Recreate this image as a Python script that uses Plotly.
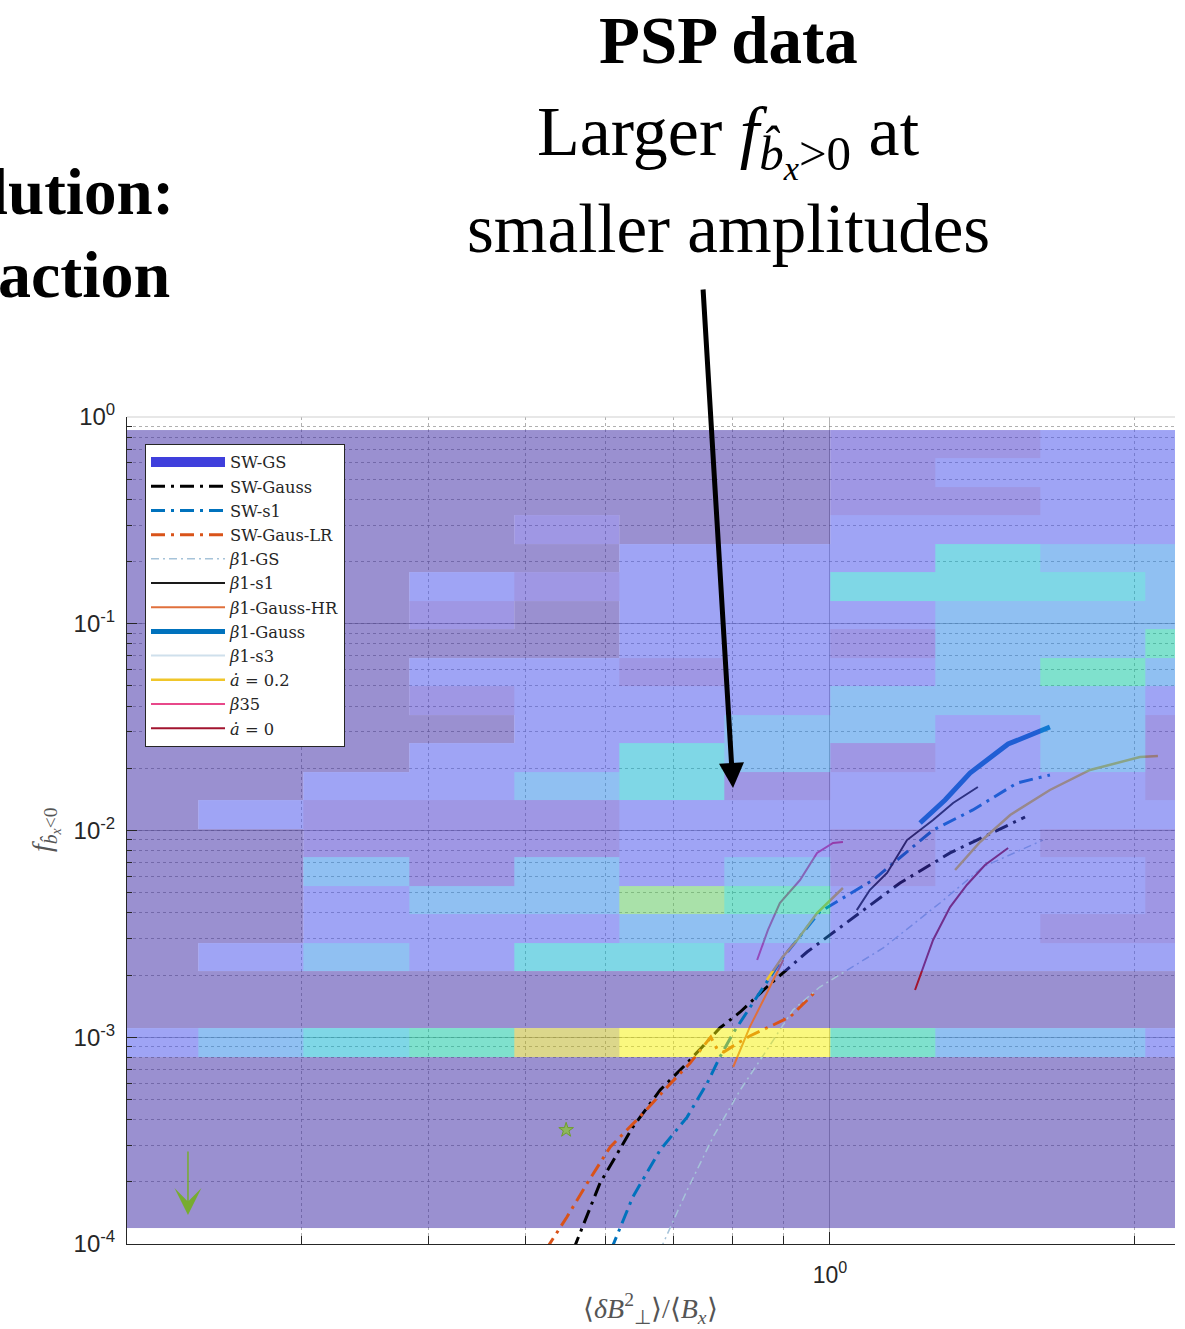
import math
import plotly.graph_objects as go

# ---------------- PSP occurrence map ----------------
# colour level of each bin, rows listed from the top of the panel downwards,
# columns from small to large amplitude
PSP_LEVELS = [
    [0, 0, 0, 0, 0, 0, 0, 1, 1, 2, 2],
    [0, 0, 0, 0, 0, 0, 0, 1, 2, 2, 2],
    [0, 0, 0, 0, 0, 0, 0, 1, 1, 2, 2],
    [0, 0, 0, 0, 1, 0, 0, 2, 2, 2, 2],
    [0, 0, 0, 0, 0, 2, 2, 2, 4, 3, 3],
    [0, 0, 0, 2, 1, 2, 2, 4, 4, 4, 3],
    [0, 0, 0, 1, 0, 2, 2, 2, 3, 3, 3],
    [0, 0, 0, 0, 0, 2, 2, 1, 3, 3, 5],
    [0, 0, 0, 2, 2, 1, 2, 2, 3, 5, 3],
    [0, 0, 0, 1, 2, 2, 2, 3, 3, 3, 2],
    [0, 0, 0, 0, 2, 2, 3, 3, 2, 3, 1],
    [0, 0, 0, 2, 2, 4, 3, 1, 2, 3, 1],
    [0, 0, 2, 2, 3, 4, 1, 2, 2, 2, 1],
    [0, 2, 1, 1, 1, 2, 2, 2, 2, 2, 2],
    [0, 0, 1, 1, 1, 2, 2, 1, 2, 1, 1],
    [0, 0, 3, 1, 3, 2, 3, 1, 2, 2, 1],
    [0, 0, 2, 3, 3, 6, 5, 2, 2, 2, 1],
    [0, 0, 2, 2, 2, 3, 3, 2, 2, 1, 1],
    [0, 2, 3, 2, 4, 4, 2, 2, 2, 2, 2],
    [0, 0, 0, 0, 0, 0, 0, 0, 0, 0, 0],
    [0, 0, 0, 0, 0, 0, 0, 0, 0, 0, 0],
    [2, 3, 4, 5, 7, 8, 8, 5, 3, 3, 2],
    [0, 0, 0, 0, 0, 0, 0, 0, 0, 0, 0],
    [0, 0, 0, 0, 0, 0, 0, 0, 0, 0, 0],
    [0, 0, 0, 0, 0, 0, 0, 0, 0, 0, 0],
    [0, 0, 0, 0, 0, 0, 0, 0, 0, 0, 0],
    [0, 0, 0, 0, 0, 0, 0, 0, 0, 0, 0],
    [0, 0, 0, 0, 0, 0, 0, 0, 0, 0, 0],
]
# logarithmic bins
X_EDGE_LOG_FIRST, X_BIN_LOG = -0.7294, 0.1042
Y_EDGE_LOG_TOP, Y_BIN_LOG = -0.063, 0.1378

LEVEL_COLORS = ["rgb(55,35,161)", "rgb(65,49,201)", "rgb(65,75,235)",
                "rgb(35,129,229)", "rgb(1,175,205)", "rgb(1,195,155)",
                "rgb(85,195,85)", "rgb(185,175,25)", "rgb(245,241,0)"]
MAP_OPACITY = 0.5

# ---------------- simulation curves ----------------
sw_gauss_x = [0.557, 0.592, 0.638, 0.679, 0.722, 0.778, 0.815, 0.866, 0.949, 1.047, 1.173, 1.315, 1.417, 1.560]
sw_gauss_y = [9.35e-5, 1.97e-4, 3.68e-4, 5.56e-4, 7.50e-4, 1.109e-3, 1.325e-3, 1.750e-3, 2.584e-3, 3.69e-3, 5.57e-3, 7.79e-3, 9.30e-3, 1.162e-2]

sw_s1_x = [0.607, 0.638, 0.679, 0.722, 0.756, 0.778, 0.802, 0.839, 0.899, 0.977, 1.103, 1.265, 1.385, 1.532, 1.651]
sw_s1_y = [9.35e-5, 1.69e-4, 2.85e-4, 4.11e-4, 6.01e-4, 8.02e-4, 1.049e-3, 1.465e-3, 2.444e-3, 4.04e-3, 5.76e-3, 1.005e-2, 1.257e-2, 1.698e-2, 1.855e-2]

sw_gaus_lr_x = [0.523, 0.549, 0.575, 0.606, 0.648, 0.690, 0.727, 0.749, 0.762, 0.773, 0.785, 0.805, 0.833, 0.866, 0.913, 0.971]
sw_gaus_lr_y = [9.35e-5, 1.35e-4, 1.97e-4, 2.95e-4, 4.11e-4, 5.75e-4, 7.50e-4, 8.97e-4, 1.003e-3, 8.77e-4, 8.49e-4, 9.18e-4, 1.014e-3, 1.109e-3, 1.254e-3, 1.693e-3]

b1_gs_x = [0.679, 0.722, 0.766, 0.815, 0.866, 0.919, 0.977, 1.047, 1.129, 1.285, 1.417, 1.625]
b1_gs_y = [9.35e-5, 1.82e-4, 3.29e-4, 5.56e-4, 8.68e-4, 1.355e-3, 1.750e-3, 2.163e-3, 2.703e-3, 4.46e-3, 6.66e-3, 8.99e-3]

b1_s1_x = [1.063, 1.095, 1.139, 1.192, 1.265, 1.324, 1.401]
b1_s1_y = [4.12e-3, 5.15e-3, 6.23e-3, 8.99e-3, 1.124e-2, 1.359e-2, 1.623e-2]

b1_gauss_hr_x = [0.802, 0.833, 0.866, 0.899]
b1_gauss_hr_y = [7.18e-4, 1.122e-3, 1.637e-3, 2.364e-3]

b1_gauss_x = [1.228, 1.300, 1.376, 1.501, 1.651]
b1_gauss_y = [1.087e-2, 1.405e-2, 1.897e-2, 2.619e-2, 3.168e-2]

adot02_x = [0.866, 0.896, 0.928, 0.971, 1.030, None, 1.330, 1.408, 1.508, 1.651, 1.809, 2.027, 2.112]
adot02_y = [1.892e-3, 2.417e-3, 2.953e-3, 3.99e-3, 5.27e-3, None, 6.44e-3, 8.80e-3, 1.189e-2, 1.570e-2, 1.963e-2, 2.266e-2, 2.291e-2]

b35_x = [0.847, 0.868, 0.892, 0.934, 0.971, 1.007, 1.030]
b35_y = [2.364e-3, 3.30e-3, 4.46e-3, 5.76e-3, 7.79e-3, 8.70e-3, 8.80e-3]

adot0_x = [1.214, 1.265, 1.315, 1.366, 1.424, 1.501]
adot0_y = [1.693e-3, 2.953e-3, 4.26e-3, 5.45e-3, 6.81e-3, 8.23e-3]

# runs with no curve inside the plotted window (legend entries only)
sw_gs_x, sw_gs_y = [None], [None]
b1_s3_x, b1_s3_y = [None], [None]

# single marked run and the upper-limit arrow
star_x, star_y = [0.548], [3.56e-4]
limit_x, limit_y_from, limit_y_to = 0.2314, 2.85e-4, 1.38e-4

# axis ticks
Y_MAJOR = [1e-4, 1e-3, 1e-2, 1e-1, 1e0]
Y_MAJOR_TEXT = ["10<sup>-4</sup>", "10<sup>-3</sup>", "10<sup>-2</sup>", "10<sup>-1</sup>", "10<sup>0</sup>"]
X_MAJOR = [1.0]
X_MAJOR_TEXT = ["10<sup>0</sup>"]
X_MINOR = [0.3, 0.4, 0.5, 0.6, 0.7, 0.8, 0.9, 2.0]
X_RANGE_LOG = [-0.696, 0.3416]
Y_RANGE_LOG = [-4, 0]

SERIF = "Liberation Serif"
LEGEND_FONT = "DejaVu Serif"
SANS = "Liberation Sans"

DASHDOT = "14px,6px,3px,6px"
THIN_DASHDOT = "8px,4px,2px,4px"

series = [
    ("SW-GS", sw_gs_x, sw_gs_y, "#3f3fdc", 13, "solid"),
    ("SW-Gauss", sw_gauss_x, sw_gauss_y, "#000000", 3, DASHDOT),
    ("SW-s1", sw_s1_x, sw_s1_y, "#0072BD", 3, DASHDOT),
    ("SW-Gaus-LR", sw_gaus_lr_x, sw_gaus_lr_y, "#D95319", 3, DASHDOT),
    ("<i>β</i>1-GS", b1_gs_x, b1_gs_y, "#a6c3d9", 1.5, THIN_DASHDOT),
    ("<i>β</i>1-s1", b1_s1_x, b1_s1_y, "#1a1a1a", 2, "solid"),
    ("<i>β</i>1-Gauss-HR", b1_gauss_hr_x, b1_gauss_hr_y, "#E0703C", 2, "solid"),
    ("<i>β</i>1-Gauss", b1_gauss_x, b1_gauss_y, "#0072BD", 5, "solid"),
    ("<i>β</i>1-s3", b1_s3_x, b1_s3_y, "#cfe0ec", 2, "solid"),
    ("<i>ȧ</i> = 0.2", adot02_x, adot02_y, "#F0C62A", 2.5, "solid"),
    ("<i>β</i>35", b35_x, b35_y, "#E8488A", 2, "solid"),
    ("<i>ȧ</i> = 0", adot0_x, adot0_y, "#A2142F", 2, "solid"),
]

n_rows = len(PSP_LEVELS)
n_cols = len(PSP_LEVELS[0])
x_edges = [10 ** (X_EDGE_LOG_FIRST + k * X_BIN_LOG) for k in range(n_cols + 1)]
y_edges = [10 ** (Y_EDGE_LOG_TOP - (n_rows - k) * Y_BIN_LOG) for k in range(n_rows + 1)]
z = PSP_LEVELS[::-1]
# empty bins sit beneath the curves, populated bins are laid over them
z_empty = [[v if v == 0 else None for v in row] for row in z]
z_filled = [[None if v == 0 else v for v in row] for row in z]

nlev = len(LEVEL_COLORS)
colorscale = []
for i, c in enumerate(LEVEL_COLORS):
    colorscale.append([i / nlev, c])
    colorscale.append([(i + 1) / nlev, c])

fig = go.Figure()
fig.add_trace(go.Heatmap(
    x=x_edges, y=y_edges, z=z_empty, colorscale=colorscale,
    zmin=-0.5, zmax=nlev - 0.5, showscale=False, opacity=MAP_OPACITY,
    hoverinfo="skip", xaxis="x", yaxis="y",
))
for name, xs, ys, color, width, dash in series:
    fig.add_trace(go.Scatter(
        x=xs, y=ys, name=name, mode="lines",
        line=dict(color=color, width=width, dash=dash),
        xaxis="x", yaxis="y",
    ))

fig.add_trace(go.Heatmap(
    x=x_edges, y=y_edges, z=z_filled, colorscale=colorscale,
    zmin=-0.5, zmax=nlev - 0.5, showscale=False, opacity=MAP_OPACITY,
    hoverinfo="skip", xaxis="x2", yaxis="y2",
))

fig.add_trace(go.Scatter(
    x=star_x, y=star_y, mode="markers", showlegend=False,
    marker=dict(symbol="star", size=11, color="rgba(140,190,70,0.85)",
                line=dict(color="#6f9e2e", width=1)),
    xaxis="x2", yaxis="y2",
))

grid_major = "rgba(120,120,120,0.55)"
grid_minor = "rgba(150,150,150,0.75)"
axis_col = "#262626"

fig.update_layout(
    width=1185, height=1329,
    margin=dict(l=127, r=10, t=417, b=85),
    paper_bgcolor="white", plot_bgcolor="white",
    showlegend=True,
    legend=dict(
        x=(145 - 127) / 1048, y=(1244 - 444) / 827,
        xanchor="left", yanchor="top",
        bgcolor="white", bordercolor=axis_col, borderwidth=1,
        font=dict(family=LEGEND_FONT, size=16.3, color="#262626"),
        itemwidth=74, tracegroupgap=0,
    ),
    xaxis=dict(
        type="log", range=X_RANGE_LOG,
        tickmode="array", tickvals=X_MAJOR, ticktext=X_MAJOR_TEXT,
        ticks="inside", ticklen=12, tickwidth=1, tickcolor=axis_col,
        showline=True, linecolor=axis_col, linewidth=1,
        showgrid=True, gridcolor=grid_major, gridwidth=1,
        zeroline=False,
        tickfont=dict(family=SANS, size=23, color=axis_col),
        ticklabelstandoff=10,
        minor=dict(tickmode="array", tickvals=X_MINOR, ticks="inside", ticklen=8,
                   tickcolor=axis_col, showgrid=True, gridcolor=grid_minor,
                   griddash="dot", gridwidth=1),
    ),
    yaxis=dict(
        type="log", range=Y_RANGE_LOG,
        tickmode="array", tickvals=Y_MAJOR, ticktext=Y_MAJOR_TEXT,
        ticks="inside", ticklen=10, tickwidth=1, tickcolor=axis_col,
        showline=True, linecolor=axis_col, linewidth=1,
        showgrid=True, gridcolor=grid_major, gridwidth=1,
        zeroline=False,
        tickfont=dict(family=SANS, size=24, color=axis_col),
        ticklabelstandoff=6,
        minor=dict(dtick="D1", ticks="inside", ticklen=5, tickcolor=axis_col,
                   showgrid=True, gridcolor=grid_minor, griddash="dot", gridwidth=1),
    ),
    xaxis2=dict(type="log", range=X_RANGE_LOG, overlaying="x", anchor="y2", visible=False),
    yaxis2=dict(type="log", range=Y_RANGE_LOG, overlaying="y", anchor="x2", visible=False),
)

# light frame edge along the top of the axes
fig.add_shape(type="line", xref="paper", yref="paper", x0=0, x1=1, y0=1, y1=1,
              line=dict(color="#cfcfcf", width=1))

ann = []
ann.append(dict(text="<b>PSP data</b>", x=0.5735, y=(1244 - 40) / 827,
                font=dict(family=SERIF, size=67, color="black")))
ann.append(dict(text="Larger <i>f</i><sub><i>b̂<sub>x</sub></i>&gt;0</sub> at",
                x=0.5735, y=(1244 - 140) / 827,
                font=dict(family=SERIF, size=70, color="black")))
ann.append(dict(text="smaller amplitudes", x=0.5735, y=(1244 - 229) / 827,
                font=dict(family=SERIF, size=69, color="black")))
ann.append(dict(text="<b>lution:</b>", x=(176 - 127) / 1048, y=(1244 - 192) / 827,
                xanchor="right", font=dict(family=SERIF, size=65, color="black")))
ann.append(dict(text="<b>action</b>", x=(172 - 127) / 1048, y=(1244 - 275) / 827,
                xanchor="right", font=dict(family=SERIF, size=66, color="black")))
ann.append(dict(text="<i>f</i><sub><i>b̂<sub>x</sub></i>&lt;0</sub>",
                x=(45 - 127) / 1048, y=(1244 - 830) / 827, textangle=-90,
                font=dict(family=SERIF, size=28, color="#555555")))
ann.append(dict(text="⟨<i>δB</i><sup>2</sup><sub>⊥</sub>⟩/⟨<i>B</i><sub><i>x</i></sub>⟩",
                x=(650 - 127) / 1048, y=(1244 - 1308) / 827,
                font=dict(family=SERIF, size=28, color="#555555")))
for a in ann:
    a.setdefault("xref", "paper")
    a.setdefault("yref", "paper")
    a.setdefault("xanchor", "center")
    a.setdefault("yanchor", "middle")
    a["showarrow"] = False

# pointer from the caption down into the map
ann.append(dict(text="", xref="paper", yref="paper",
                x=(733 - 127) / 1048, y=(1244 - 788) / 827,
                ax=-30, ay=-500, showarrow=True,
                arrowhead=2, arrowsize=1, arrowwidth=5, arrowcolor="black"))

# upper-limit arrow (annotation positions on log axes are given in decades)
ann.append(dict(text="", xref="x", yref="y", axref="x", ayref="y",
                x=math.log10(limit_x), y=math.log10(limit_y_to),
                ax=math.log10(limit_x), ay=math.log10(limit_y_from),
                showarrow=True, arrowhead=3, arrowsize=3, arrowwidth=1.5,
                arrowcolor="#77AC30"))

fig.update_layout(annotations=ann)

fig.write_html("out.html")
